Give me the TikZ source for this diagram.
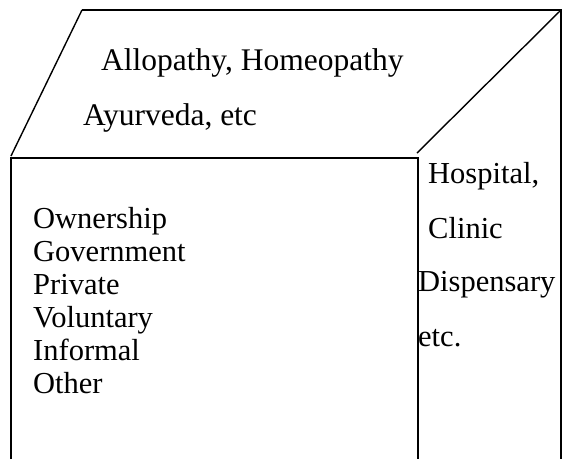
\documentclass[tikz,border=0pt]{standalone}
\usepackage{fontspec}
\setmainfont{Liberation Serif}
\begin{document}
\begin{tikzpicture}[x=1pt,y=-1pt,
    txt/.style={anchor=base west, inner sep=0pt, font=\fontsize{30.5}{36}\selectfont},
    toptxt/.style={txt, font=\fontsize{31.5}{36}\selectfont},
    edge/.style={line width=1.8pt},
    slant/.style={line width=1.4pt}]
  \useasboundingbox (0,0) rectangle (563,459);

  % corners of the box
  \coordinate (topl) at (82,10);
  \coordinate (topr) at (561,10);
  \coordinate (botr) at (561,459);
  \coordinate (frtl) at (11,158);
  \coordinate (frtr) at (418,158);
  \coordinate (frbl) at (11,459);
  \coordinate (frbr) at (418,459);

  \draw[edge] (topl) -- (topr) -- (botr);
  \draw[edge] (frbl) -- (frtl) -- (frtr) -- (frbr);
  \draw[slant] (topl) -- (11,156);
  \draw[slant] (topr) -- (417,153);

  % top face
  \node[toptxt] (allo) at (101,70) {Allopathy, Homeopathy};
  \node[toptxt] (ayur) at (83,125) {Ayurveda, etc};

  % front face
  \foreach \w [count=\i] in {Ownership,Government,Private,Voluntary,Informal,Other}
    {
      \node[txt] (own\i) at (33,195+33*\i) {\w};
    }

  % side face
  \node[txt] (hosp) at (428,183) {Hospital,};
  \node[txt] (clin) at (428,238) {Clinic};
  \node[txt] (disp) at (418,291) {Dispensary};
  \node[txt] (etc) at (418,346) {etc.};
\end{tikzpicture}
\end{document}
